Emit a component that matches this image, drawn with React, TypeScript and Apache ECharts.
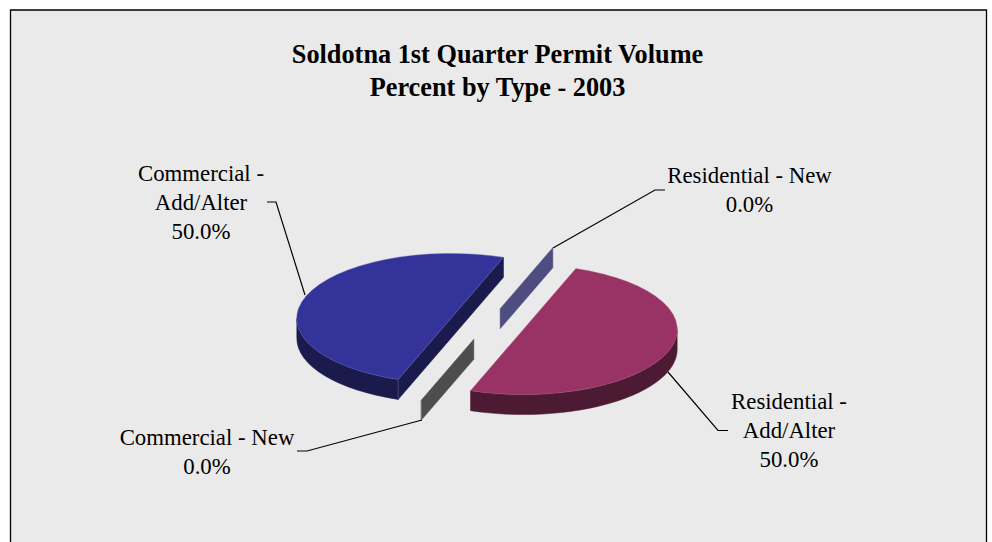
import React, { useEffect, useRef } from "react";
import * as echarts from "echarts";

const TITLE_LINES = ["Soldotna 1st Quarter Permit Volume", "Percent by Type - 2003"];
const CATEGORIES = ["Residential - New", "Residential - Add/Alter", "Commercial - New", "Commercial - Add/Alter"];
const VALUES = [0, 50, 0, 50];

// Styles and layout, separate from the values
const TOP_COLORS = ["#9999ff", "#993366", "#808080", "#333399"];
const TOP_EDGES = ["#9999ff", "#b5608a", "#808080", "#6a6ac0"];
const WALL_COLORS = ["#4d4d80", "#4d1a33", "#4d4d4d", "#1a1a4d"];
const WALL_EDGES = ["#6d6d98", "#4d1a33", "#8a8a8a", "#5c5c8c"];
const LABEL_WRAP = [false, true, false, true];
const LABEL_POS = [[749.5, 161], [789, 387], [207, 423], [201, 158.5]];
const LEADERS = [
  [[553, 248], [655, 190], [665, 190]],
  [[668, 372], [718, 430.5], [728, 430.5]],
  [[422, 420], [307, 451], [297, 451]],
  [[305, 295], [276, 202], [267, 202]],
];

const PIE = { cx: 487, cy: 324, rx: 154, ry: 65, depth: 20, start: 20, explode: 0.25 };
const FONT = "'Liberation Serif', 'Times New Roman', serif";
const LABEL_SIZE = 22.8;
const LINE_HEIGHT = 29;
const TOTAL = VALUES.reduce((a, b) => a + b, 0);

const rad = (d: number) => (d * Math.PI) / 180;
const px = (c: number, t: number, k = 1) => c + PIE.rx * k * Math.sin(rad(t));
const py = (c: number, t: number, k = 1) => c - PIE.ry * k * Math.cos(rad(t));

function sliceAngles(index: number) {
  let a = PIE.start;
  for (let i = 0; i < index; i++) a += (VALUES[i] / TOTAL) * 360;
  return [a, a + (VALUES[index] / TOTAL) * 360];
}

function arcTo(x: number, y: number, large: boolean, sweep: boolean) {
  return `A${PIE.rx} ${PIE.ry} 0 ${large ? 1 : 0} ${sweep ? 1 : 0} ${x} ${y}`;
}

function renderSlice(params: any, api: any) {
  const i = params.dataIndex;
  const value = api.value(0) as number;
  const [a, b] = sliceAngles(i);
  const mid = (a + b) / 2;
  const cx = px(PIE.cx, mid, PIE.explode);
  const cy = py(PIE.cy, mid, PIE.explode);
  const d = PIE.depth;
  const children: any[] = [];
  const wall = WALL_COLORS[i];

  // Outer rim: only the part in front (90..270 degrees) shows
  for (const k of [0, 360]) {
    const from = Math.max(a, 90 + k);
    const to = Math.min(b, 270 + k);
    if (to > from) {
      const x1 = px(cx, from), y1 = py(cy, from), x2 = px(cx, to), y2 = py(cy, to);
      children.push({
        type: "path",
        shape: {
          pathData: `M${x1} ${y1}${arcTo(x2, y2, to - from > 180, true)}L${x2} ${y2 + d}${arcTo(x1, y1 + d, to - from > 180, false)}Z`,
        },
        style: { fill: wall, stroke: wall, lineWidth: 0.5 },
      });
    }
  }

  // Cut faces that look towards the viewer, as one outline
  const angles: number[] = [];
  if (Math.sin(rad(a)) < -1e-6) angles.push(a);
  if (Math.sin(rad(b)) > 1e-6) angles.push(b);
  if (angles.length) {
    const t0 = angles[0];
    const t1 = angles[angles.length - 1];
    const topLine = [[px(cx, t0), py(cy, t0)], [cx, cy], [px(cx, t1), py(cy, t1)]];
    const points = angles.length === 2 ? topLine : [[cx, cy], [px(cx, t0), py(cy, t0)]];
    const lower = points.map(([x, y]) => [x, y + d]).reverse();
    children.push({
      type: "polygon",
      shape: { points: [...points, ...lower] },
      style: { fill: wall, stroke: wall, lineWidth: 0.5 },
    });
    // thin light vertical seam at the rim end of the face
    const seamT = angles.find((t) => Math.cos(rad(t)) < 0);
    if (seamT !== undefined) {
      children.push({
        type: "line",
        shape: { x1: px(cx, seamT), y1: py(cy, seamT), x2: px(cx, seamT), y2: py(cy, seamT) + d },
        style: { stroke: WALL_EDGES[i], lineWidth: 0.6 },
      });
    }
  }

  if (value > 0) {
    const x1 = px(cx, a), y1 = py(cy, a), x2 = px(cx, b), y2 = py(cy, b);
    children.push({
      type: "path",
      shape: { pathData: `M${x1} ${y1}${arcTo(x2, y2, b - a > 180, true)}Z` },
      style: { fill: TOP_COLORS[i], stroke: TOP_EDGES[i], lineWidth: 0.4 },
    });
  }

  children.push({
    type: "polyline",
    shape: { points: LEADERS[i] },
    style: { stroke: "#000000", lineWidth: 1.2, fill: "none" },
  });

  const nameLines = LABEL_WRAP[i] ? CATEGORIES[i].replace(" - ", " -\n").split("\n") : [CATEGORIES[i]];
  const lines = [...nameLines, `${((value / TOTAL) * 100).toFixed(1)}%`];
  lines.forEach((text, n) => {
    children.push({
      type: "text",
      x: LABEL_POS[i][0],
      y: LABEL_POS[i][1] + n * LINE_HEIGHT,
      style: {
        text,
        font: `${LABEL_SIZE}px ${FONT}`,
        lineHeight: LINE_HEIGHT,
        fill: "#000000",
        align: "center",
        verticalAlign: "top",
      },
    });
  });

  return { type: "group", children };
}

export default function App() {
  const ref = useRef<HTMLDivElement>(null);
  useEffect(() => {
    document.body.style.margin = "0";
    const chart = echarts.init(ref.current!, null, { renderer: "svg" });
    chart.setOption({
      animation: false,
      backgroundColor: "#ffffff",
      title: {
        text: TITLE_LINES.join("\n"),
        left: 492.5,
        top: 33.5,
        textAlign: "center",
        textStyle: { fontFamily: FONT, fontSize: 26.3, fontWeight: "bold", color: "#000000", lineHeight: 32.5 },
      },
      graphic: [
        { type: "rect", shape: { x: 10, y: 10, width: 976, height: 532 }, style: { fill: "#eaeaea" } },
        {
          type: "polyline",
          shape: { points: [[10.5, 542], [10.5, 10], [986.5, 10], [986.5, 542]] },
          style: { stroke: "#000000", lineWidth: 1.3, fill: "none" },
        },
      ],
      series: [
        {
          type: "custom",
          coordinateSystem: "none",
          renderItem: renderSlice,
          data: VALUES.map((v, i) => ({ name: CATEGORIES[i], value: [v] })),
        },
      ],
    });
    return () => chart.dispose();
  }, []);
  return <div ref={ref} style={{ width: 992, height: 542 }} />;
}
